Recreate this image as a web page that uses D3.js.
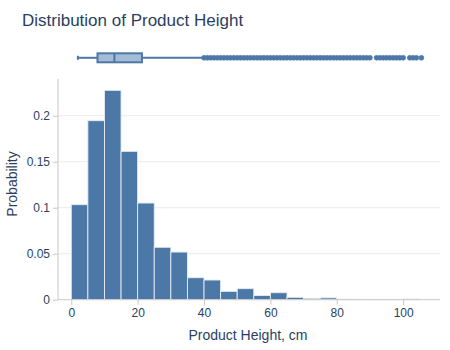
<!DOCTYPE html>
<html><head><meta charset="utf-8">
<script src="https://cdn.jsdelivr.net/npm/d3@7"></script>
<style>body{margin:0;background:#fff}svg{display:block;font-family:"Liberation Sans",Arial,sans-serif}</style>
</head><body>
<script>
// Histogram bins (5 cm wide) and probability per bin
const binEdges = [0,5,10,15,20,25,30,35,40,45,50,55,60,65,70,75,80,85,90,95,100,105];
const probabilities = [0.1033,0.1946,0.2276,0.1613,0.1051,0.0570,0.0518,0.0239,0.0214,0.0091,0.0120,0.0045,0.0076,0.0026,0.0015,0.0020,0.0007,0.0004,0.0003,0.0003,0.0008];
// Box plot summary
const boxStats = {lowerFence: 2, q1: 7.9, median: 13, q3: 21.3, upperFence: 40};
const outliers = [40,41,42,43,44,45,46,47,48,49,50,51,52,53,54,55,56,57,58,59,60,61,62,63,64,65,66,67,68,69,70,71,72,73,74,75,76,77,78,79,80,81,82,83,84,85,86,87,88,89,90,92,93,94,95,96,97,98,99,100,102,103,104,105.5];
const xTicks = [0,20,40,60,80,100];
const yTicks = [0,0.05,0.1,0.15,0.2];
const yTickLabels = ["0","0.05","0.1","0.15","0.2"];

const W = 450, H = 350;
const color = "#4c78a8", textColor = "#2a3f5f";
const svg = d3.select("body").append("svg").attr("width", W).attr("height", H);
svg.append("rect").attr("width", W).attr("height", H).attr("fill", "#fff");

const x = d3.scaleLinear().domain([-4, 110.2]).range([58, 437]);
const y = d3.scaleLinear().domain([0, 0.2396]).range([299.7, 79.3]);

// gridlines
svg.append("g").selectAll("line").data(yTicks.slice(1)).join("line")
  .attr("x1", 58).attr("x2", 440).attr("y1", d => y(d)).attr("y2", d => y(d))
  .attr("stroke", "#ebebeb").attr("stroke-width", 1);

// bars
const bins = probabilities.map((p, i) => ({x0: binEdges[i], x1: binEdges[i+1], p}));
svg.append("g").selectAll("rect").data(bins).join("rect")
  .attr("x", d => x(d.x0)).attr("width", d => x(d.x1) - x(d.x0))
  .attr("y", d => y(d.p)).attr("height", d => y(0) - y(d.p))
  .attr("fill", color).attr("stroke", "#e6ecf2").attr("stroke-width", 0.9);

// axes
const xAxis = svg.append("g").attr("transform", `translate(0,${y(0)})`)
  .call(d3.axisBottom(x).tickValues(xTicks).tickSize(5).tickPadding(4));
xAxis.select(".domain").attr("d", `M58,0H440`).attr("stroke", "#c8c8c8");
xAxis.selectAll(".tick line").attr("stroke", "#c8c8c8");
xAxis.selectAll(".tick text").attr("fill", textColor).attr("font-size", 12).attr("font-family", "Liberation Sans, Arial, sans-serif");

const yAxis = svg.append("g").attr("transform", `translate(58,0)`)
  .call(d3.axisLeft(y).tickValues(yTicks).tickFormat((d, i) => yTickLabels[i]).tickSize(5).tickPadding(3));
yAxis.select(".domain").attr("d", `M0,${y(0)}V79`).attr("stroke", "#c8c8c8");
yAxis.selectAll(".tick line").attr("stroke", "#c8c8c8");
yAxis.selectAll(".tick text").attr("fill", textColor).attr("font-size", 12).attr("font-family", "Liberation Sans, Arial, sans-serif");

// box plot (marginal)
const by = 57.8, bh = 9;
const bg = svg.append("g");
bg.append("line").attr("x1", x(boxStats.lowerFence)).attr("x2", x(boxStats.q1)).attr("y1", by).attr("y2", by)
  .attr("stroke", color).attr("stroke-width", 2);
bg.append("line").attr("x1", x(boxStats.q3)).attr("x2", x(boxStats.upperFence)).attr("y1", by).attr("y2", by)
  .attr("stroke", color).attr("stroke-width", 2);
bg.append("line").attr("x1", x(boxStats.lowerFence)).attr("x2", x(boxStats.lowerFence)).attr("y1", by-2).attr("y2", by+2)
  .attr("stroke", color).attr("stroke-width", 2);
bg.append("rect").attr("x", x(boxStats.q1)).attr("width", x(boxStats.q3) - x(boxStats.q1))
  .attr("y", by - bh/2).attr("height", bh)
  .attr("fill", "rgba(76,120,168,0.5)").attr("stroke", color).attr("stroke-width", 2);
bg.append("line").attr("x1", x(boxStats.median)).attr("x2", x(boxStats.median)).attr("y1", by - bh/2).attr("y2", by + bh/2)
  .attr("stroke", color).attr("stroke-width", 2);
bg.append("g").selectAll("circle").data(outliers).join("circle")
  .attr("cx", d => x(d)).attr("cy", by).attr("r", 2.4)
  .attr("fill", color).attr("stroke", color).attr("stroke-width", 0.8);

// titles
svg.append("text").attr("x", 22).attr("y", 25.5).attr("font-size", 17).attr("fill", textColor)
  .text("Distribution of Product Height");
svg.append("text").attr("x", 248).attr("y", 340).attr("text-anchor", "middle").attr("font-size", 14).attr("fill", textColor)
  .text("Product Height, cm");
svg.append("text").attr("transform", "translate(17,184) rotate(-90)").attr("text-anchor", "middle").attr("font-size", 14).attr("fill", textColor)
  .text("Probability");
</script>
</body></html>
